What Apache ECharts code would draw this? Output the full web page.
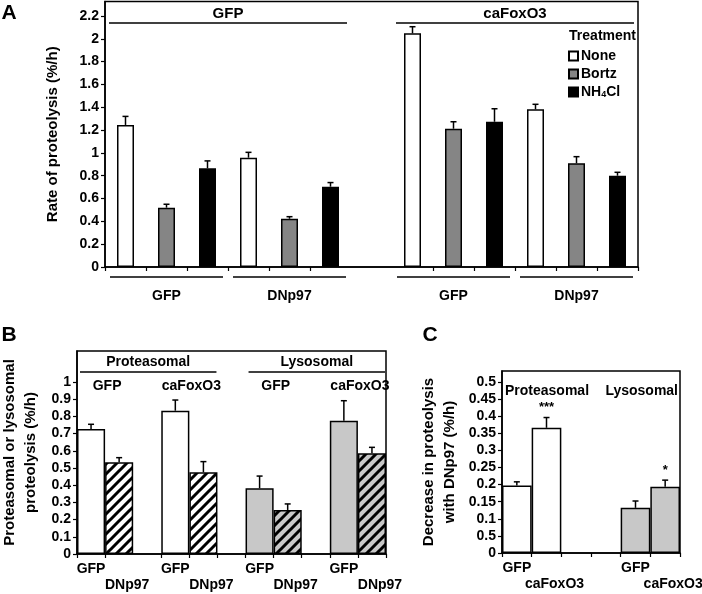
<html>
<head>
<meta charset="UTF-8">
<title>Rate of proteolysis</title>
<style>
  html, body { margin: 0; padding: 0; background: #fff; }
  #main { width: 702px; height: 594px; }
</style>
<script src="https://cdn.jsdelivr.net/npm/echarts@6/dist/echarts.min.js"></script>
</head>
<body>
<div id="main"></div>
<script>
// ---------- panel A : rate of proteolysis (%/h) ----------
var aConditions = [['GFP', 'GFP'], ['GFP', 'DNp97'], ['caFoxO3', 'GFP'], ['caFoxO3', 'DNp97']];
var aTreatments = ['None', 'Bortz', 'NH4Cl'];
var aNone     = [1.245, 0.958, 2.048, 1.382];
var aNoneErr  = [0.075, 0.047, 0.058, 0.044];
var aBortz    = [0.520, 0.423, 1.212, 0.909];
var aBortzErr = [0.030, 0.018, 0.061, 0.058];
var aNH4Cl    = [0.865, 0.704, 1.273, 0.800];
var aNH4ClErr = [0.065, 0.036, 0.114, 0.030];
var aTicks = [0, 0.2, 0.4, 0.6, 0.8, 1, 1.2, 1.4, 1.6, 1.8, 2, 2.2];

// ---------- panel B : proteasomal / lysosomal proteolysis ----------
var bPathways = ['Proteasomal', 'Lysosomal'];
var bGroups   = [['Proteasomal', 'GFP'], ['Proteasomal', 'caFoxO3'], ['Lysosomal', 'GFP'], ['Lysosomal', 'caFoxO3']];
var bControl    = [0.727, 0.833, 0.382, 0.775];
var bControlErr = [0.027, 0.062, 0.071, 0.116];
var bDNp97      = [0.533, 0.475, 0.256, 0.585];
var bDNp97Err   = [0.027, 0.062, 0.035, 0.035];
var bTicks = [0, 0.1, 0.2, 0.3, 0.4, 0.5, 0.6, 0.7, 0.8, 0.9, 1];

// ---------- panel C : decrease with DNp97 ----------
var cPathways = ['Proteasomal', 'Lysosomal'];
var cGFP       = [0.197, 0.132];
var cGFPErr    = [0.011, 0.020];
var cCaFoxO3   = [0.366, 0.194];
var cCaFoxO3Err = [0.030, 0.019];
var cSignif    = ['***', '*'];
var cTicks = [0, 0.05, 0.1, 0.15, 0.2, 0.25, 0.3, 0.35, 0.4, 0.45, 0.5];
var cTickLabels = ['0', '0.5', '0.1', '0.15', '0.2', '0.25', '0.3', '0.35', '0.4', '0.45', '0.5'];

var FONT = '"Liberation Sans", Arial, Helvetica, sans-serif';
var GRAY_A = '#858585', GRAY_B = '#c8c8c8';

// diagonal hatch fill
function hatch(bg) {
    var s = 10, c = document.createElement('canvas');
    c.width = c.height = s;
    var g = c.getContext('2d');
    g.fillStyle = bg; g.fillRect(0, 0, s, s);
    g.strokeStyle = '#000'; g.lineWidth = 3;
    g.beginPath();
    g.moveTo(-2, 2); g.lineTo(2, -2);
    g.moveTo(0, s); g.lineTo(s, 0);
    g.moveTo(s - 2, s + 2); g.lineTo(s + 2, s - 2);
    g.stroke();
    return { image: c, repeat: 'repeat' };
}

function emptySlots(n) { var a = []; for (var i = 0; i < n; i++) a.push(null); return a; }

function errorBar(params, api) {
    var x = api.value(0), v = api.value(1), e = api.value(2);
    var p0 = api.coord([x, v]), p1 = api.coord([x, v + e]);
    var st = { stroke: '#000', lineWidth: 1.5 };
    return { type: 'group', children: [
        { type: 'line', shape: { x1: p0[0], y1: p0[1], x2: p1[0], y2: p1[1] }, style: st },
        { type: 'line', shape: { x1: p1[0] - 3, y1: p1[1], x2: p1[0] + 3, y2: p1[1] }, style: st }
    ]};
}

// slot layout
var aSlotOf = function (c, t) { return c * 3 + t + (c >= 2 ? 1 : 0); };
var bSlotOf = function (g, k) { return g * 3 + k; };
var cSlotOf = function (p, k) { return p * 4 + k; };

var aCats = emptySlots(13).map(function () { return ''; });
aConditions.forEach(function (cd, c) {
    aTreatments.forEach(function (t, k) { aCats[aSlotOf(c, k)] = cd[0] + ' ' + cd[1] + ' ' + t; });
});
var bCats = emptySlots(11).map(function () { return ''; });
bGroups.forEach(function (g, i) { bCats[bSlotOf(i, 0)] = 'GFP'; bCats[bSlotOf(i, 1)] = 'DNp97'; });
var cCats = emptySlots(6).map(function () { return ''; });
cPathways.forEach(function (p, i) { cCats[cSlotOf(i, 0)] = 'GFP'; cCats[cSlotOf(i, 1)] = 'caFoxO3'; });

var series = [];
var aVals = [aNone, aBortz, aNH4Cl], aErrs = [aNoneErr, aBortzErr, aNH4ClErr];
var aFill = ['#ffffff', GRAY_A, '#000000'];
var aErrData = [];
aTreatments.forEach(function (name, t) {
    var d = emptySlots(13);
    aVals[t].forEach(function (v, c) {
        d[aSlotOf(c, t)] = v;
        aErrData.push([aSlotOf(c, t), v, aErrs[t][c]]);
    });
    series.push({ type: 'bar', name: name, xAxisIndex: 0, yAxisIndex: 0, data: d,
        barWidth: 17, barGap: '-100%',
        itemStyle: { color: aFill[t], borderColor: '#000', borderWidth: 1.5 } });
});
series.push({ type: 'custom', xAxisIndex: 0, yAxisIndex: 0, renderItem: errorBar, data: aErrData, z: 5 });

// panel B bars
var bCtlData = emptySlots(11), bDnData = emptySlots(11), bErrData = [];
bGroups.forEach(function (g, i) {
    var bg = g[0] === 'Lysosomal' ? GRAY_B : '#ffffff';
    bCtlData[bSlotOf(i, 0)] = { value: bControl[i], itemStyle: { color: bg } };
    bDnData[bSlotOf(i, 1)] = { value: bDNp97[i], itemStyle: { color: hatch(bg) } };
    bErrData.push([bSlotOf(i, 0), bControl[i], bControlErr[i]]);
    bErrData.push([bSlotOf(i, 1), bDNp97[i], bDNp97Err[i]]);
});
[['GFP', bCtlData], ['DNp97', bDnData]].forEach(function (s) {
    series.push({ type: 'bar', name: 'B ' + s[0], xAxisIndex: 1, yAxisIndex: 1, data: s[1],
        barWidth: '100%', barGap: '-100%',
        itemStyle: { borderColor: '#000', borderWidth: 1.5 } });
});
series.push({ type: 'custom', xAxisIndex: 1, yAxisIndex: 1, renderItem: errorBar, data: bErrData, z: 5 });

// panel C bars
var cGfpData = emptySlots(6), cCaData = emptySlots(6), cErrData = [];
cPathways.forEach(function (p, i) {
    var bg = p === 'Lysosomal' ? GRAY_B : '#ffffff';
    cGfpData[cSlotOf(i, 0)] = { value: cGFP[i], itemStyle: { color: bg } };
    cCaData[cSlotOf(i, 1)] = { value: cCaFoxO3[i], itemStyle: { color: bg } };
    cErrData.push([cSlotOf(i, 0), cGFP[i], cGFPErr[i]]);
    cErrData.push([cSlotOf(i, 1), cCaFoxO3[i], cCaFoxO3Err[i]]);
});
[['GFP', cGfpData], ['caFoxO3', cCaData]].forEach(function (s) {
    series.push({ type: 'bar', name: 'C ' + s[0], xAxisIndex: 2, yAxisIndex: 2, data: s[1],
        barWidth: '100%', barGap: '-100%',
        itemStyle: { borderColor: '#000', borderWidth: 1.5 } });
});
series.push({ type: 'custom', xAxisIndex: 2, yAxisIndex: 2, renderItem: errorBar, data: cErrData, z: 5 });

function gridBox(l, t, w, h) {
    return { left: l, top: t, width: w, height: h, show: true, borderColor: '#000', borderWidth: 1.5,
        backgroundColor: 'transparent', outerBoundsMode: 'none' };
}
function xCat(idx, data, labels) {
    return { type: 'category', gridIndex: idx, data: data,
        axisLine: { lineStyle: { color: '#000', width: 1.5 } },
        axisTick: { show: true, length: 4, lineStyle: { color: '#000', width: 1.2 } },
        axisLabel: labels || { show: false } };
}
var xLabelStyle = {
    interval: 0, margin: 8, color: '#000', fontSize: 14, fontWeight: 'bold', fontFamily: FONT,
    formatter: function (v) { return v === 'GFP' ? v : (v ? '{lo|' + v + '}' : ''); },
    rich: { lo: { padding: [16, 0, 0, 16], fontSize: 14, fontWeight: 'bold', fontFamily: FONT, color: '#000' } }
};
function yVal(idx, max, ticks, fs, name, gap, fmt) {
    return { type: 'value', gridIndex: idx, min: 0, max: max,
        axisLine: { show: true, lineStyle: { color: '#000', width: 1.5 } },
        axisTick: { show: true, length: 4, customValues: ticks, lineStyle: { color: '#000', width: 1.2 } },
        axisLabel: { customValues: ticks, margin: 6, color: '#000', fontSize: fs, fontWeight: 'bold', fontFamily: FONT,
            formatter: fmt || function (v) { return String(v); } },
        splitLine: { show: false },
        name: name, nameLocation: 'middle', nameGap: gap,
        nameTextStyle: { color: '#000', fontSize: 15, fontWeight: 'bold', fontFamily: FONT, lineHeight: 21 } };
}

var chart = echarts.init(document.getElementById('main'));
chart.setOption({
    animation: false,
    backgroundColor: '#fff',
    grid: [gridBox(105, 1.5, 533, 265.5), gridBox(77, 351, 309, 203), gridBox(502, 371, 178, 182)],
    xAxis: [
        (function () { var x = xCat(0, aCats); x.axisTick.interval = function (i) { return i !== 6 && i !== 7; }; return x; })(),
        (function () { var x = xCat(1, bCats, xLabelStyle); x.axisTick.interval = function (i) { return i !== 2; }; return x; })(),
        xCat(2, cCats, xLabelStyle)
    ],
    yAxis: [
        yVal(0, 2.327, aTicks, 14, 'Rate of proteolysis (%/h)', 42),
        yVal(1, 1.18, bTicks, 14, 'Proteasomal or lysosomal\nproteolysis (%/h)', 36),
        yVal(2, 0.532, cTicks, 14, 'Decrease in proteolysis\nwith DNp97 (%/h)', 42, function (v) {
            for (var i = 0; i < cTicks.length; i++) if (Math.abs(cTicks[i] - v) < 1e-9) return cTickLabels[i];
            return '';
        })
    ],
    legend: {
        data: aTreatments, orient: 'vertical', left: 563, top: 44, icon: 'rect',
        itemWidth: 9, itemHeight: 9, itemGap: 4, selectedMode: false,
        formatter: function (n) { return n === 'NH4Cl' ? 'NH{sub|4}Cl' : n; },
        textStyle: { color: '#000', fontSize: 14, fontWeight: 'bold', fontFamily: FONT, padding: [0, 0, 0, -2],
            rich: { sub: { fontSize: 9, fontWeight: 'bold', fontFamily: FONT, color: '#000', padding: [6, 0, 0, 0] } } }
    },
    series: series
});

// annotations positioned from the axes
function cx(a, s) { return chart.convertToPixel({ xAxisIndex: a }, s); }
function cy(a, v) { return chart.convertToPixel({ yAxisIndex: a }, v); }
function bw(a) { return cx(a, 1) - cx(a, 0); }
function lft(a, s) { return cx(a, s) - bw(a) / 2; }
function rgt(a, s) { return cx(a, s) + bw(a) / 2; }
function txt(x, y, s, align, size) {
    return { type: 'text', x: x, y: y, z: 10, style: { text: s, fill: '#000', fontSize: size || 14, fontWeight: 'bold',
        fontFamily: FONT, align: align || 'center', verticalAlign: 'middle' } };
}
function ln(x1, y, x2) {
    return { type: 'line', z: 10, shape: { x1: x1, y1: y, x2: x2, y2: y }, style: { stroke: '#000', lineWidth: 1.5 } };
}
var els = [];
// A headers
['GFP', 'caFoxO3'].forEach(function (h, i) {
    var s0 = aSlotOf(i * 2, 0), s1 = aSlotOf(i * 2 + 1, 2);
    var x0 = lft(0, s0) + 4, x1 = rgt(0, s1) - 4;
    els.push(ln(x0, 23, x1), txt((x0 + x1) / 2, 14, h, 'center', 15));
});
aConditions.forEach(function (cd, c) {
    var x0 = lft(0, aSlotOf(c, 0)) + 5, x1 = rgt(0, aSlotOf(c, 2)) - 5;
    els.push(ln(x0, 277, x1), txt((x0 + x1) / 2, 296, cd[1], 'center', 14));
});
els.push(txt(636, 36, 'Treatment', 'right', 14));
// B headers
bPathways.forEach(function (p, i) {
    var x0 = lft(1, bSlotOf(i * 2, 0)) + 3, x1 = rgt(1, bSlotOf(i * 2 + 1, 1)) - 1;
    els.push(ln(x0, 372, x1), txt((x0 + x1) / 2, 362, p, 'center', 14));
});
bGroups.forEach(function (g, i) {
    els.push(txt((lft(1, bSlotOf(i, 0)) + rgt(1, bSlotOf(i, 1))) / 2 + 2, 386, g[1], 'center', 14));
});
// C headers and significance
els.push(txt(lft(2, cSlotOf(0, 0)) + 3, 391, cPathways[0], 'left', 14));
els.push(txt(rgt(2, cSlotOf(1, 1)) - 2, 391, cPathways[1], 'right', 14));
cSignif.forEach(function (s, i) {
    els.push(txt(cx(2, cSlotOf(i, 1)), cy(2, cCaFoxO3[i] + cCaFoxO3Err[i]) - 10, s, 'center', 13));
});
// panel letters
els.push(txt(9, 13, 'A', 'center', 21), txt(9, 335, 'B', 'center', 21), txt(430, 335, 'C', 'center', 21));
chart.setOption({ graphic: { elements: els } });
</script>
</body>
</html>
